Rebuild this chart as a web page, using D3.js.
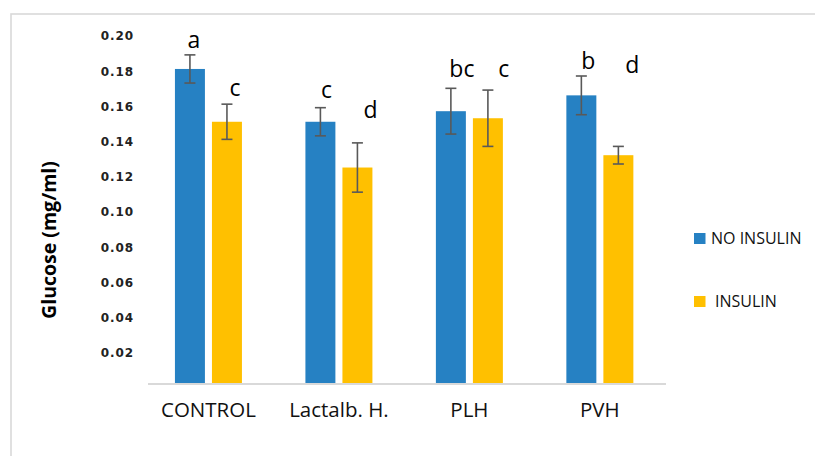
<!DOCTYPE html>
<html>
<head>
<meta charset="utf-8">
<script src="https://cdn.jsdelivr.net/npm/d3@7"></script>
<style>
  html, body { margin: 0; padding: 0; background: #fff; }
  svg { display: block; }
</style>
</head>
<body>
<svg id="chart" width="815" height="456"></svg>
<script>
// ---------- data ----------
const categories = ["CONTROL", "Lactalb. H.", "PLH", "PVH"];
const seriesNames = ["NO INSULIN", "INSULIN"];
const noInsulin = [0.179, 0.149, 0.155, 0.164];
const insulin = [0.149, 0.123, 0.151, 0.130];
const noInsulinErr = [0.008, 0.008, 0.013, 0.011];
const insulinErr = [0.010, 0.014, 0.016, 0.005];
const noInsulinLetters = ["a", "c", "bc", "b"];
const insulinLetters = ["c", "d", "c", "d"];
// letter baselines, in glucose units (as placed in the original)
const noInsulinLetterAt = [0.1907, 0.1623, 0.1746, 0.1788];
const insulinLetterAt = [0.1636, 0.1510, 0.1746, 0.1769];
const yTicks = [0.02, 0.04, 0.06, 0.08, 0.10, 0.12, 0.14, 0.16, 0.18, 0.20];
const yTitle = "Glucose (mg/ml)";

// ---------- layout / style ----------
const colors = ["#2681C3", "#FFC000"];
const letterNudge = [[4, 6, 11, 7], [8, 13, 16, 14]];

const svg = d3.select("#chart");

// outer frame
svg.append("rect")
  .attr("x", 11).attr("y", 14)
  .attr("width", 830).attr("height", 470)
  .attr("fill", "none").attr("stroke", "#d9d9d9").attr("stroke-width", 1.6);

const y = d3.scaleLinear().domain([0, 0.2]).range([384, 32]);
const x0 = d3.scaleBand().domain(categories).range([143.2, 665.1]).paddingInner(0).paddingOuter(0);
const x1 = d3.scaleBand().domain(seriesNames).range([-33.5, 33.5]).paddingInner(0.19).paddingOuter(0);

const rows = categories.map((c, i) => ({
  cat: c,
  vals: [
    { s: seriesNames[0], si: 0, v: noInsulin[i], e: noInsulinErr[i], l: noInsulinLetters[i], la: noInsulinLetterAt[i], i },
    { s: seriesNames[1], si: 1, v: insulin[i], e: insulinErr[i], l: insulinLetters[i], la: insulinLetterAt[i], i }
  ]
}));

// y-axis tick labels (no line)
const yAxis = d3.axisLeft(y).tickValues(yTicks).tickFormat(d3.format(".2f")).tickSize(0).tickPadding(0);
const ya = svg.append("g").attr("transform", "translate(134,4)").call(yAxis);
ya.select(".domain").remove();
ya.selectAll("text")
  .attr("font-family", "DejaVu Sans")
  .attr("font-weight", "bold")
  .attr("font-size", 12)
  .attr("letter-spacing", "0.9px")
  .attr("fill", "#222");

// y title
svg.append("text")
  .attr("transform", "translate(56,240) rotate(-90)")
  .attr("text-anchor", "middle")
  .attr("font-family", "Open Sans")
  .attr("font-weight", "bold")
  .attr("font-size", 19.5)
  .attr("fill", "#000")
  .text(yTitle);

// groups
const g = svg.append("g").selectAll("g.grp").data(rows).join("g")
  .attr("class", "grp")
  .attr("transform", d => `translate(${x0(d.cat) + x0.bandwidth() / 2},0)`);

g.selectAll("rect").data(d => d.vals).join("rect")
  .attr("x", d => x1(d.s))
  .attr("width", x1.bandwidth())
  .attr("y", d => y(d.v))
  .attr("height", d => y(0) - y(d.v))
  .attr("fill", d => colors[d.si]);

// error bars
const eb = g.selectAll("g.err").data(d => d.vals).join("g").attr("class", "err")
  .attr("stroke", "#595959").attr("stroke-width", 1.6);
eb.append("line")
  .attr("x1", d => x1(d.s) + x1.bandwidth() / 2).attr("x2", d => x1(d.s) + x1.bandwidth() / 2)
  .attr("y1", d => y(d.v + d.e)).attr("y2", d => y(d.v - d.e));
eb.append("line")
  .attr("x1", d => x1(d.s) + x1.bandwidth() / 2 - 5.5).attr("x2", d => x1(d.s) + x1.bandwidth() / 2 + 5.5)
  .attr("y1", d => y(d.v + d.e)).attr("y2", d => y(d.v + d.e));
eb.append("line")
  .attr("x1", d => x1(d.s) + x1.bandwidth() / 2 - 5.5).attr("x2", d => x1(d.s) + x1.bandwidth() / 2 + 5.5)
  .attr("y1", d => y(d.v - d.e)).attr("y2", d => y(d.v - d.e));

// letters
g.selectAll("text.letter").data(d => d.vals).join("text")
  .attr("class", "letter")
  .attr("x", d => x1(d.s) + x1.bandwidth() / 2 + letterNudge[d.si][d.i])
  .attr("y", d => y(d.la))
  .attr("text-anchor", "middle")
  .attr("font-family", "Open Sans")
  .attr("font-size", 23)
  .attr("fill", "#000")
  .text(d => d.l);

// x axis line
svg.append("line")
  .attr("x1", 148).attr("x2", 666)
  .attr("y1", y(0)).attr("y2", y(0))
  .attr("stroke", "#d9d9d9").attr("stroke-width", 2);

// category labels
const xAxis = d3.axisBottom(x0).tickSize(0).tickPadding(0);
const xa = svg.append("g").attr("transform", "translate(0,402.5)").call(xAxis);
xa.select(".domain").remove();
xa.selectAll("text")
  .attr("font-family", "Open Sans")
  .attr("font-size", 20.5)
  .attr("fill", "#111")
  .attr("dy", "0.71em");

// legend
const legendY = [238.5, 301.5];
const lg = svg.append("g").selectAll("g").data(seriesNames).join("g")
  .attr("transform", (d, i) => `translate(694,${legendY[i]})`);
lg.append("rect")
  .attr("x", 0).attr("y", -5.5).attr("width", 11.5).attr("height", 11)
  .attr("fill", (d, i) => colors[i]);
lg.append("text")
  .attr("x", (d, i) => i === 0 ? 17 : 21)
  .attr("y", 0)
  .attr("dy", "0.35em")
  .attr("font-family", "Open Sans")
  .attr("font-size", 16)
  .attr("fill", "#111")
  .text(d => d);
</script>
</body>
</html>
